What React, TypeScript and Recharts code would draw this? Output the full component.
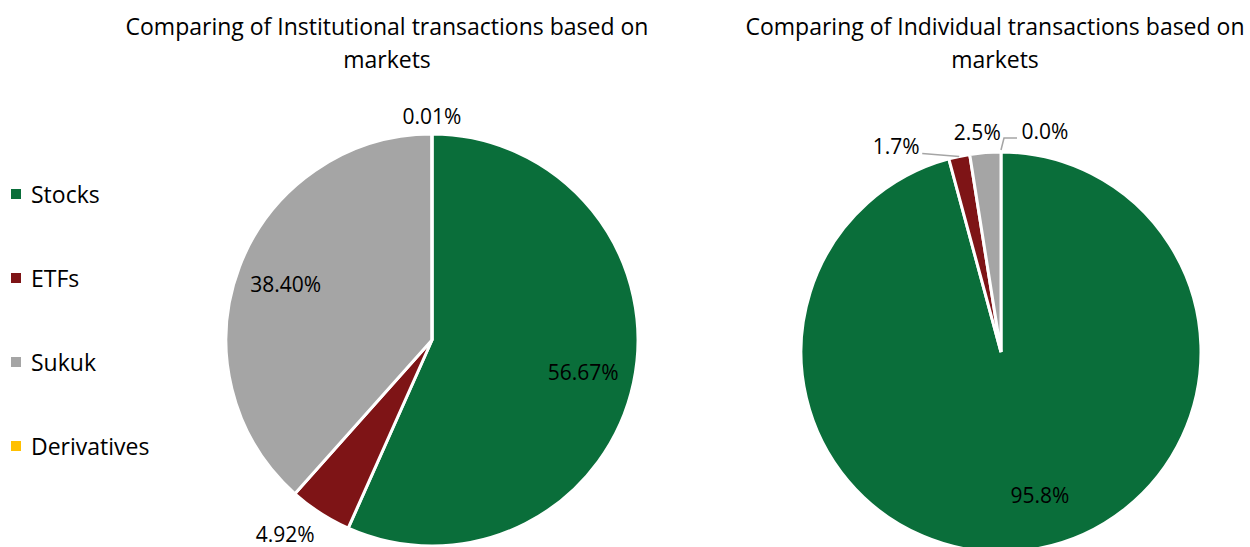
import React from 'react';
import { PieChart, Pie, Cell } from 'recharts';

const categories = ['Stocks', 'ETFs', 'Sukuk', 'Derivatives'];
const institutionalShares = [56.67, 4.92, 38.4, 0.01];
const individualShares = [95.8, 1.7, 2.5, 0.0];

const COLORS = ['#0A6E3A', '#7E1416', '#A5A5A5', '#FFC000'];
const FONT = '"Open Sans", "Liberation Sans", sans-serif';
const RADIAN = Math.PI / 180;

type LabelSpot = { inside?: number; dx?: number; dy?: number; leader?: [number, number][] };

// where each slice label sits, relative to its slice edge
const leftSpots: LabelSpot[] = [
  { inside: 0.75 },
  { dx: -35, dy: 21 },
  { inside: 0.76 },
  { dx: 0, dy: -18 },
];
const rightSpots: LabelSpot[] = [
  { inside: 0.72, dx: 20 },
  { dx: -63, dy: -10, leader: [[0, 0], [-37, -3]] },
  { dx: -8, dy: -21 },
  { dx: 44, dy: -21, leader: [[0, -2], [3, -14], [16, -14]] },
];

const makeLabel = (decimals: number, spots: LabelSpot[]) => (props: any) => {
  const { cx, cy, midAngle, outerRadius, index, value } = props;
  const spot = spots[index] || {};
  const cos = Math.cos(-midAngle * RADIAN);
  const sin = Math.sin(-midAngle * RADIAN);
  const r = spot.inside ? outerRadius * spot.inside : outerRadius;
  const ex = cx + r * cos;
  const ey = cy + r * sin;
  const x = ex + (spot.dx ?? 0);
  const y = ey + (spot.dy ?? 0);
  return (
    <g key={`lbl-${index}`}>
      {spot.leader && (
        <polyline
          points={spot.leader.map(([px, py]) => `${ex + px},${ey + py}`).join(' ')}
          fill="none"
          stroke="#A5A5A5"
          strokeWidth={1.5}
        />
      )}
      <text x={x} y={y} textAnchor="middle" dominantBaseline="central" fill="#000" fontSize={21} fontFamily={FONT}>
        {Number(value).toFixed(decimals)}%
      </text>
    </g>
  );
};

const leftData = categories.map((name, i) => ({ name, value: institutionalShares[i] }));
const rightData = categories.map((name, i) => ({ name, value: individualShares[i] }));

const titleStyle: React.CSSProperties = {
  position: 'absolute',
  textAlign: 'center',
  fontFamily: FONT,
  fontSize: 23,
  lineHeight: '33px',
  color: '#000',
};

const App: React.FC = () => {
  return (
    <div style={{ position: 'absolute', left: 0, top: 0, width: 1250, height: 547, background: '#fff', overflow: 'hidden' }}>
      <div style={{ ...titleStyle, left: 37, top: 10, width: 700 }}>
        Comparing of Institutional transactions based on
        <br />
        markets
      </div>
      <div style={{ ...titleStyle, left: 645, top: 10, width: 700 }}>
        Comparing of Individual transactions based on
        <br />
        markets
      </div>

      {/* Legend */}
      {categories.map((name, i) => (
        <div
          key={name}
          style={{ position: 'absolute', left: 11, top: 194 + i * 84 - 15, height: 30, display: 'flex', alignItems: 'center' }}
        >
          <div style={{ width: 10, height: 10, background: COLORS[i], marginRight: 10 }} />
          <span style={{ fontFamily: FONT, fontSize: 23, color: '#000' }}>{name}</span>
        </div>
      ))}

      <PieChart
        width={1250}
        height={547}
        margin={{ top: 0, right: 0, bottom: 0, left: 0 }}
        style={{ position: 'absolute', left: 0, top: 0 }}
      >
        <Pie
          data={leftData}
          dataKey="value"
          cx={432}
          cy={340}
          outerRadius={206}
          startAngle={90}
          endAngle={-270}
          label={makeLabel(2, leftSpots)}
          labelLine={false}
          isAnimationActive={false}
        >
          {leftData.map((entry, index) => (
            <Cell key={`l-${index}`} fill={COLORS[index]} stroke="#fff" strokeWidth={3} />
          ))}
        </Pie>
        <Pie
          data={rightData}
          dataKey="value"
          cx={1001}
          cy={352}
          outerRadius={200}
          startAngle={90}
          endAngle={-270}
          label={makeLabel(1, rightSpots)}
          labelLine={false}
          isAnimationActive={false}
        >
          {rightData.map((entry, index) => (
            <Cell key={`r-${index}`} fill={COLORS[index]} stroke="#fff" strokeWidth={3} />
          ))}
        </Pie>
      </PieChart>
    </div>
  );
};

export default App;
